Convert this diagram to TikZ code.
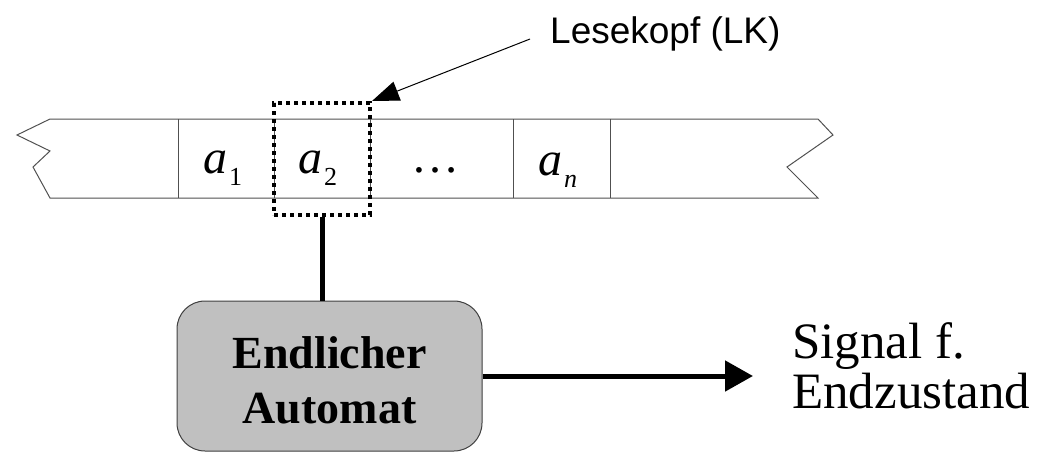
\documentclass[tikz,border=0pt]{standalone}
\usepackage{fontspec}
\setmainfont{Liberation Serif}
\newfontfamily\lksans{Liberation Sans}
\usetikzlibrary{arrows.meta}
\definecolor{boxgray}{HTML}{C0C0C0}
\definecolor{tapeline}{HTML}{505050}
% tape symbol: italic letter with a lowered index
\newcommand{\tapesym}[2]{\fontsize{48}{48}\selectfont\textit{a}\kern2pt\raisebox{-12pt}{\fontsize{26}{26}\selectfont #2}}
\begin{document}
\begin{tikzpicture}[x=1pt,y=-1pt,
  tapeedge/.style={draw=tapeline,line width=1pt,line join=miter},
  headbox/.style={draw=black,line width=4pt,dash pattern=on 4pt off 4pt,
    minimum width=96pt,minimum height=112pt,inner sep=0pt},
  fabox/.style={draw=darkgray,fill=boxgray,line width=1pt,rounded corners=28pt,
    minimum width=305pt,minimum height=150pt,inner sep=0pt},
  thick link/.style={line width=5pt},
  symbol/.style={anchor=base west,inner sep=0pt}]
\useasboundingbox (0,0) rectangle (1042,453);

% tape with torn ends
\draw[tapeedge] (50,119) -- (818,119) -- (833,135) -- (787,167) -- (818,198)
  -- (50,198) -- (33,167) -- (50,151) -- (17,135) -- cycle;
\foreach \cx in {178,274,370,513,610}
  \draw[tapeedge] (\cx,119) -- (\cx,198);

% cell contents
\node[symbol] (c1) at (203,173) {\tapesym{a}{1}};
\node[symbol] (c2) at (298,173) {\tapesym{a}{2}};
\node[symbol] (cdots) at (411,172) {\fontsize{48}{48}\selectfont\ldots};
\node[symbol] (cn) at (538,175) {\tapesym{a}{\textit{n}}};

% read head
\node[headbox] (head) at (322,159) {};

% label of the read head with its leader
\node[anchor=base west,inner sep=0pt] (lk) at (550,43)
  {\lksans\fontsize{37}{37}\selectfont Lesekopf (LK)};
\coordinate (lkfoot) at (530,39);
\draw[line width=1pt,-{Triangle[length=27pt,width=20pt]}] (lkfoot) -- (head.north east);

% finite automaton
\node[fabox] (fa) at (329.5,376) {};
\node[align=center,inner sep=0pt,font=\fontsize{46}{55}\selectfont\bfseries]
  (fatext) at (329.5,380) {Endlicher\\Automat};
\draw[thick link] (head.south) -- (head.south |- fa.north);

% output signal
\coordinate (tip) at (753,376);
\draw[thick link,-{Triangle[length=28pt,width=30pt]}] (fa.east) -- (tip);
\node[anchor=north west,align=left,inner sep=0pt,font=\fontsize{51}{50}\selectfont]
  (sig) at (792,322) {Signal f.\\Endzustand};
\end{tikzpicture}
\end{document}
